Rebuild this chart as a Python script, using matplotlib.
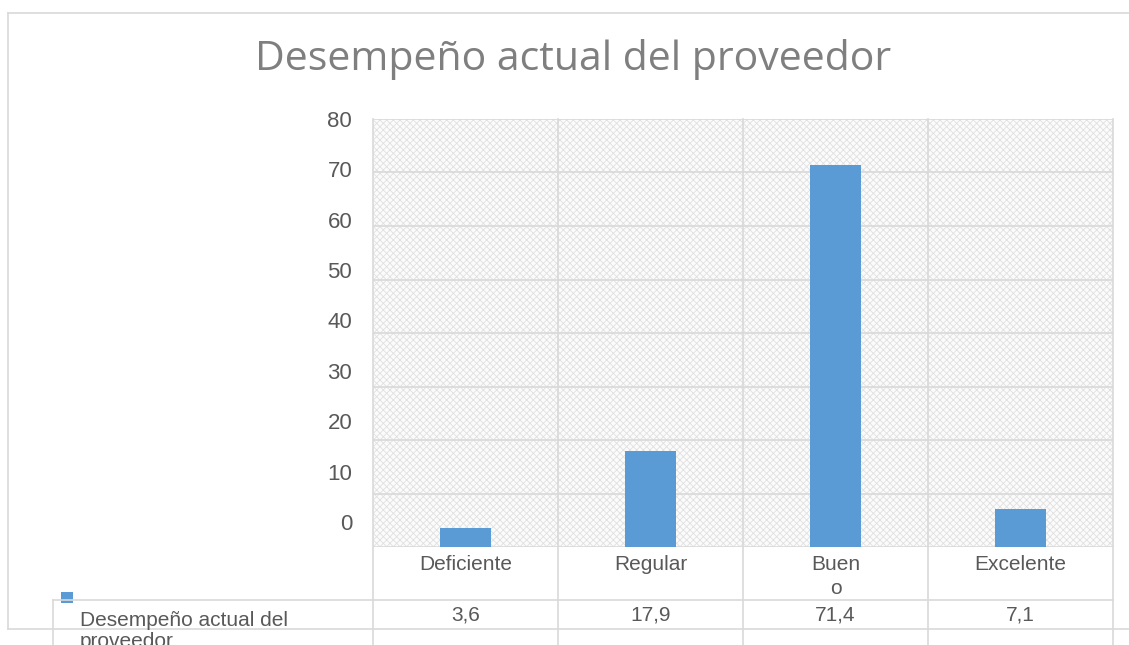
import numpy as np
import matplotlib
matplotlib.use("Agg")
import matplotlib.pyplot as plt
from matplotlib.patches import Rectangle
from matplotlib.lines import Line2D
import matplotlib.transforms as mtransforms

categorias = ['Deficiente', 'Regular', 'Buen\no', 'Excelente']
valores = [3.6, 17.9, 71.4, 7.1]
etiquetas_tabla = ['3,6', '17,9', '71,4', '7,1']
serie = 'Desempeño actual del\nproveedor'
titulo = 'Desempeño actual del proveedor'

W, H = 1129, 645
gris = '#d9d9d9'
texto = '#595959'
azul = '#5b9bd5'

plt.rcParams['font.family'] = ['Liberation Sans', 'DejaVu Sans']
plt.rcParams['hatch.linewidth'] = 0.6

def fy(y):
    return 1 - y / H

def fx(x):
    return x / W

fig = plt.figure(figsize=(W / 100, H / 100), dpi=100)

# marco exterior
fig.add_artist(Line2D([fx(8), fx(8)], [fy(13), fy(629)], color=gris, lw=1.2))
fig.add_artist(Line2D([fx(8), 1], [fy(13), fy(13)], color=gris, lw=1.2))
fig.add_artist(Line2D([fx(8), 1], [fy(629), fy(629)], color=gris, lw=1.2))

ax = fig.add_axes([fx(373), fy(547), fx(1113) - fx(373), (547 - 119) / H])
ax.add_patch(Rectangle((0, 0), 1, 1, transform=ax.transAxes, facecolor='#fbfbfb',
                       edgecolor='#e0e0e0', hatch='xxxxx', lw=0, zorder=0))

x = np.arange(len(categorias))
ax.bar(x, valores, width=0.276, color=azul, zorder=3)
ax.set_xlim(-0.5, len(categorias) - 0.5)
ax.set_ylim(0, 80)
ax.set_yticks(np.arange(0, 81, 10))
ax.set_yticklabels([])
ax.tick_params(axis='y', length=0)
ax.grid(axis='y', color=gris, lw=1.2, zorder=1)
for s in ax.spines.values():
    s.set_visible(False)

# separadores de categorias, prolongados en la tabla
trans = mtransforms.blended_transform_factory(ax.transData, ax.transAxes)
bajo = -(645 - 547) / (547 - 119)
for b in np.arange(-0.5, len(categorias), 1.0):
    ax.plot([b, b], [bajo, 1], transform=trans, color=gris, lw=1.2,
            clip_on=False, zorder=2)

ax.set_xticks(x)
ax.set_xticklabels(categorias, fontsize=15, color=texto, linespacing=1.3)
ax.tick_params(axis='x', length=0, pad=6)

# etiquetas del eje y (escala propia como en la imagen)
ay = fig.add_axes([fx(373), fy(522), 0.0005, (522 - 119) / H])
ay.set_ylim(0, 80)
ay.set_yticks(np.arange(0, 81, 10))
ay.tick_params(axis='y', length=0, pad=15, labelsize=16, labelcolor=texto)
ay.set_xticks([])
for s in ay.spines.values():
    s.set_visible(False)
ay.patch.set_visible(False)

# tabla de datos
fig.add_artist(Line2D([fx(53), fx(53)], [fy(600), 0], color=gris, lw=1.2))
fig.add_artist(Rectangle((fx(61), fy(603)), fx(12), 11 / H, facecolor=azul, lw=0))
fig.add_artist(Line2D([fx(53), fx(1113)], [fy(600), fy(600)], color=gris, lw=1.2))
tfig = mtransforms.blended_transform_factory(ax.transData, fig.transFigure)
for xi, et in zip(x, etiquetas_tabla):
    ax.text(xi, fy(615), et, transform=tfig, ha='center', va='center',
            fontsize=15, color=texto)
fig.text(fx(80), fy(631), serie, ha='left', va='center', fontsize=15,
         color=texto, linespacing=1.1)

fig.text(fx(573), fy(59), titulo, ha='center', va='center', fontsize=29.5,
         color='#7f7f7f', family=['Open Sans', 'DejaVu Sans'])

fig.savefig('out.png', dpi=100)
